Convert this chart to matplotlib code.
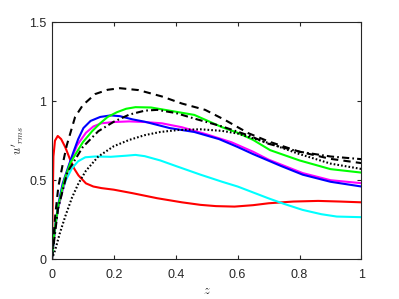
import matplotlib

matplotlib.use("Agg")
import matplotlib.pyplot as plt  # noqa: E402

plt.rcParams["font.family"] = ["Liberation Sans", "DejaVu Sans"]
plt.rcParams["mathtext.fontset"] = "cm"

AX = "#262626"

# curves, one (z, u'_rms) pair per profile
z_dash = [0, 0.011, 0.021, 0.037, 0.048, 0.06, 0.075, 0.1, 0.14, 0.18, 0.22,
          0.28, 0.355, 0.42, 0.495, 0.56, 0.635, 0.7, 0.8, 0.9, 1.0]
u_dash = [0, 0.28, 0.46, 0.62, 0.72, 0.8, 0.9, 0.975, 1.045, 1.072, 1.082,
          1.07, 1.03, 0.985, 0.945, 0.88, 0.797, 0.745, 0.68, 0.635, 0.608]

z_dashdot = [0, 0.02, 0.05, 0.1, 0.15, 0.2, 0.25, 0.3, 0.34, 0.4, 0.46, 0.55,
             0.64, 0.7, 0.8, 0.9, 1.0]
u_dashdot = [0, 0.32, 0.55, 0.71, 0.81, 0.87, 0.915, 0.94, 0.945, 0.925, 0.89,
             0.84, 0.78, 0.73, 0.68, 0.65, 0.633]

z_dot = [0, 0.011, 0.025, 0.043, 0.065, 0.086, 0.11, 0.15, 0.2, 0.25, 0.3,
         0.35, 0.41, 0.48, 0.55, 0.6, 0.7, 0.8, 0.9, 1.0]
u_dot = [0, 0.06, 0.16, 0.27, 0.39, 0.48, 0.56, 0.65, 0.715, 0.755, 0.785,
         0.805, 0.818, 0.822, 0.812, 0.795, 0.735, 0.665, 0.605, 0.571]

z_green = [0, 0.01, 0.02, 0.04, 0.06, 0.075, 0.1, 0.13, 0.156, 0.18, 0.21,
           0.24, 0.27, 0.32, 0.38, 0.46, 0.55, 0.6, 0.65, 0.705, 0.8, 0.9, 1.0]
u_green = [0, 0.2, 0.33, 0.5, 0.61, 0.66, 0.74, 0.81, 0.86, 0.9, 0.93,
           0.952, 0.962, 0.96, 0.94, 0.913, 0.835, 0.8, 0.755, 0.69, 0.625, 0.57, 0.548]

z_blue = [0, 0.01, 0.02, 0.035, 0.054, 0.07, 0.085, 0.102, 0.125, 0.156, 0.19,
          0.22, 0.26, 0.3, 0.38, 0.46, 0.54, 0.6, 0.65, 0.74, 0.81, 0.9, 1.0]
u_blue = [0, 0.2, 0.34, 0.48, 0.59, 0.68, 0.76, 0.83, 0.875, 0.9, 0.91,
          0.905, 0.885, 0.87, 0.83, 0.805, 0.76, 0.71, 0.665, 0.59, 0.535, 0.49, 0.46]

z_magenta = [0, 0.01, 0.02, 0.04, 0.06, 0.081, 0.11, 0.134, 0.16, 0.2, 0.25,
             0.3, 0.355, 0.42, 0.5, 0.58, 0.65, 0.7, 0.81, 0.9, 1.0]
u_magenta = [0, 0.19, 0.32, 0.48, 0.62, 0.72, 0.8, 0.84, 0.86, 0.868, 0.872,
             0.868, 0.86, 0.835, 0.79, 0.74, 0.68, 0.63, 0.545, 0.5, 0.481]

z_cyan = [0, 0.005, 0.011, 0.02, 0.032, 0.045, 0.065, 0.085, 0.108, 0.14, 0.19,
          0.24, 0.27, 0.3, 0.35, 0.4, 0.48, 0.55, 0.6, 0.7, 0.75, 0.81, 0.87, 0.92, 1.0]
u_cyan = [0.03, 0.12, 0.21, 0.32, 0.42, 0.5, 0.576, 0.62, 0.645, 0.65, 0.648,
          0.655, 0.66, 0.652, 0.625, 0.59, 0.535, 0.49, 0.46, 0.385, 0.35, 0.312,
          0.285, 0.27, 0.266]

z_red = [0, 0.002, 0.005, 0.01, 0.019, 0.03, 0.043, 0.059, 0.073, 0.086, 0.11,
         0.134, 0.16, 0.2, 0.26, 0.34, 0.42, 0.48, 0.53, 0.59, 0.65, 0.7, 0.78,
         0.86, 0.93, 1.0]
u_red = [0, 0.27, 0.65, 0.75, 0.78, 0.76, 0.71, 0.63, 0.57, 0.53, 0.48,
         0.46, 0.45, 0.44, 0.418, 0.386, 0.36, 0.344, 0.336, 0.333, 0.342, 0.354,
         0.365, 0.369, 0.365, 0.36]

fig = plt.figure(figsize=(3.99, 2.99), dpi=100)
ax = fig.add_axes([0.13, 0.133, 0.776, 0.793])

lw = 1.5
ax.plot(z_red, u_red, color="#ff0000", lw=lw)
ax.plot(z_cyan, u_cyan, color="#00ffff", lw=lw)
ax.plot(z_magenta, u_magenta, color="#ff00ff", lw=lw)
ax.plot(z_blue, u_blue, color="#0000ff", lw=lw)
ax.plot(z_green, u_green, color="#00ff00", lw=lw)
ax.plot(z_dot, u_dot, color="k", lw=lw, dashes=(0.8, 1.0))
ax.plot(z_dashdot, u_dashdot, color="k", lw=lw, dashes=(3.5, 1.5, 0.8, 1.5))
ax.plot(z_dash, u_dash, color="k", lw=lw, dashes=(3.5, 2.5))

ax.set_xlim(0, 1)
ax.set_ylim(0, 1.5)
ax.set_xticks([0, 0.2, 0.4, 0.6, 0.8, 1], ["0", "0.2", "0.4", "0.6", "0.8", "1"])
ax.set_yticks([0, 0.5, 1, 1.5], ["0", "0.5", "1", "1.5"])
ax.tick_params(direction="in", length=3, width=0.8, colors=AX, labelsize=9,
               top=True, right=True)
ax.tick_params(axis="x", pad=7)
ax.tick_params(axis="y", pad=4)
for s in ax.spines.values():
    s.set_color(AX)
    s.set_linewidth(0.8)

ax.set_xlabel("$z$", fontsize=9, color=AX, labelpad=3)
ax.set_ylabel("$u'_{rms}$", fontsize=9, color=AX, labelpad=2)

fig.savefig("out.png", dpi=100)
